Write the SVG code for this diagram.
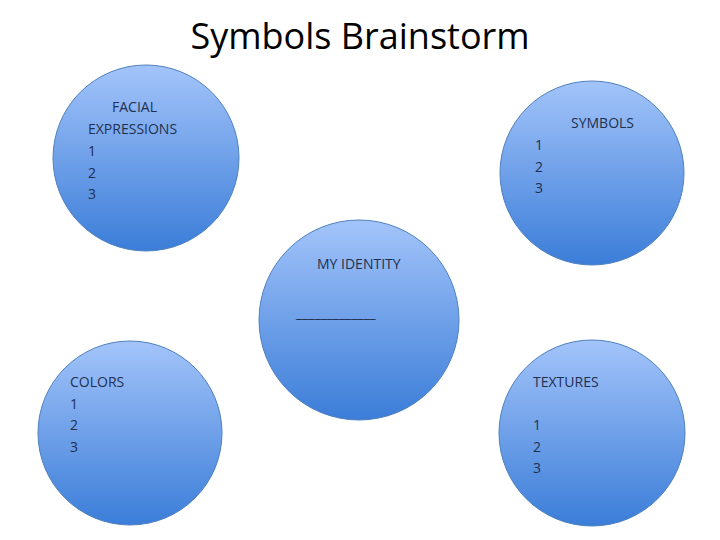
<svg xmlns="http://www.w3.org/2000/svg" width="720" height="540" viewBox="0 0 720 540">
<defs>
<linearGradient id="g" x1="0" y1="0" x2="0" y2="1">
<stop offset="0" stop-color="#a3c4fa"/>
<stop offset="1" stop-color="#3b7dd8"/>
</linearGradient>
<style>
.c{fill:url(#g);stroke:#4f81bd;stroke-width:1}
.t{font-family:"Open Sans","Liberation Sans",sans-serif;font-size:14px;fill:#1f3050}
.h{font-family:"Open Sans","Liberation Sans",sans-serif;font-size:36px;fill:#000}
</style>
</defs>
<rect width="720" height="540" fill="#fff"/>
<text class="h" x="360" y="49" text-anchor="middle">Symbols Brainstorm</text>
<g id="facial"><circle class="c" cx="146" cy="158" r="93"/>
<text class="t"><tspan x="112" y="112">FACIAL</tspan><tspan x="88" y="134">EXPRESSIONS</tspan><tspan x="88" y="156">1</tspan><tspan x="88" y="178">2</tspan><tspan x="88" y="199">3</tspan></text></g>
<g id="symbols"><circle class="c" cx="592" cy="173" r="92"/>
<text class="t"><tspan x="571" y="128">SYMBOLS</tspan><tspan x="535" y="150">1</tspan><tspan x="535" y="172">2</tspan><tspan x="535" y="193">3</tspan></text></g>
<g id="identity"><circle class="c" cx="359" cy="320" r="100"/>
<text class="t"><tspan x="317" y="269">MY IDENTITY</tspan><tspan x="296" y="318">_____________</tspan></text></g>
<g id="colors"><circle class="c" cx="130" cy="433" r="92"/>
<text class="t"><tspan x="70" y="387">COLORS</tspan><tspan x="70" y="409">1</tspan><tspan x="70" y="430">2</tspan><tspan x="70" y="452">3</tspan></text></g>
<g id="textures"><circle class="c" cx="592" cy="433" r="93"/>
<text class="t"><tspan x="533" y="387">TEXTURES</tspan><tspan x="533" y="430">1</tspan><tspan x="533" y="452">2</tspan><tspan x="533" y="473">3</tspan></text></g>
<g id="connectors"/>
</svg>
